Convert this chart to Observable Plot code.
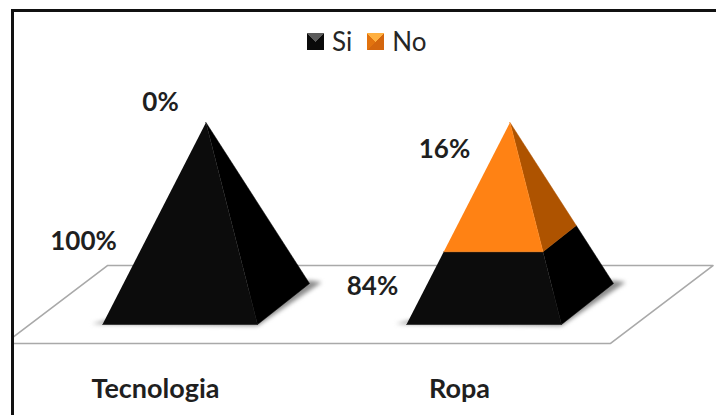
<!DOCTYPE html>
<html>
<head>
<meta charset="utf-8">
<script src="https://cdn.jsdelivr.net/npm/d3@7"></script>
<script src="https://cdn.jsdelivr.net/npm/@observablehq/plot@0.6"></script>
<style>
  html, body { margin: 0; background: #fff; }
  #chart { position: relative; width: 716px; height: 415px; overflow: hidden; }
  #legend { position: absolute; left: 307px; top: 24px; display: flex; align-items: center; height: 34px;
            font: 26px Lato, sans-serif; color: #262626; }
  .swatch { width: 17px; height: 17px; margin-right: 8px; }
  .swatch.si { background: conic-gradient(from 315deg at 50% 55%, #5a5a5a 0 90deg, #0a0a0a 90deg 360deg); }
  .swatch.no { background: conic-gradient(from 315deg at 50% 55%, #ffb040 0 90deg, #d4660e 90deg 270deg, #e2730f 270deg 360deg); }
  #legend span.label { margin-right: 15px; }
</style>
</head>
<body>
<div id="chart">
  <div id="legend"></div>
</div>
<script>
// Survey answers per category, bottom segment first
const categories = ["Tecnologia", "Ropa"];
const seriesNames = ["Si", "No"];
const siValues = [100, 84];
const noValues = [0, 16];

const frontColors = {Si: "#0c0c0c", No: "#ff8214"};
const sideColors = {Si: "#000000", No: "#ae5300"};

// Stack value to height along the pyramid's axis (the 3-D chart compresses the lower part)
const stackHeight = d3.scaleLinear([0, 84, 100], [0, 0.36, 1]);

// Oblique projection of the pyramid: half base width, depth offset in x and y
const halfWidth = 0.255;
const depthX = 0.171;
const depthY = 0.203;

function project(category, across, depth, level) {
  const d = 0.5 + (depth - 0.5) * (1 - level);
  return {
    x: category + across * halfWidth * (1 - level) + depthX * d,
    y: (1 - depthY / 2) * level + depthY * d
  };
}

// One side face and one front face for every stacked segment
const faces = [];
categories.forEach((name, i) => {
  let start = 0;
  seriesNames.forEach((series, s) => {
    const value = (s === 0 ? siValues : noValues)[i];
    const end = start + value;
    if (value > 0) {
      const a = stackHeight(start), b = stackHeight(end);
      const side = [project(i, 1, 0, a), project(i, 1, 1, a), project(i, 1, 1, b), project(i, 1, 0, b)];
      const front = [project(i, -1, 0, a), project(i, 1, 0, a), project(i, 1, 0, b), project(i, -1, 0, b)];
      side.forEach(p => faces.push({...p, face: `${name}-${series}-side`, color: sideColors[series]}));
      front.forEach(p => faces.push({...p, face: `${name}-${series}-front`, color: frontColors[series]}));
    }
    start = end;
  });
});

// Soft shadow along the base of each pyramid
const shadows = categories.flatMap((name, i) => [
  {x: i - halfWidth - 0.035, y: 0.004, face: name},
  {x: i + halfWidth, y: -0.006, face: name},
  {x: i + halfWidth + depthX + 0.04, y: depthY + 0.006, face: name},
  {x: i + halfWidth + depthX, y: depthY + 0.015, face: name},
  {x: i, y: 0.1, face: name}
]);

// Floor the pyramids stand on
const floorFrontX = [-0.58, 1.413];
const floorBackX = [-0.242, 1.75];
const floorFrontY = -0.094;
const floorBackY = 0.292;
const floor = [
  {x: floorBackX[0], y: floorBackY},
  {x: floorBackX[1], y: floorBackY},
  {x: floorFrontX[1], y: floorFrontY},
  {x: floorFrontX[0], y: floorFrontY},
  {x: floorBackX[0], y: floorBackY}
];

// Value labels, each placed beside its segment
const labelOffsets = [
  {series: "Si", i: 0, dx: -96.5, dy: -40},
  {series: "No", i: 0, dx: -19.5, dy: -20},
  {series: "Si", i: 1, dx: -111.5, dy: -1},
  {series: "No", i: 1, dx: -39.5, dy: -37}
];
const labelMarks = labelOffsets.map(({series, i, dx, dy}) => {
  const value = (series === "Si" ? siValues : noValues)[i];
  const base = series === "Si" ? 0 : siValues[i];
  const middle = stackHeight(base + value / 2);
  return Plot.text([{x: i, y: middle, text: `${value}%`}], {
    x: "x", y: "y", text: "text", dx, dy,
    fontSize: 26, fontWeight: 700, fill: "#1f1f1f"
  });
});

const plot = Plot.plot({
  width: 716,
  height: 415,
  marginLeft: 12,
  marginTop: 10,
  marginRight: 0,
  marginBottom: 0,
  style: {fontFamily: "Lato, sans-serif", background: "transparent"},
  x: {domain: [0, 1], range: [179.5, 483.5], axis: null},
  y: {domain: [0, 1], range: [324, 122], axis: null},
  color: {type: "identity"},
  marks: [
    Plot.line(floor, {x: d => d.x + 1 / 304, y: "y", fill: "#fff", stroke: "#a9a9a9", strokeWidth: 1.6, clip: true}),
    Plot.line(shadows, {x: "x", y: "y", z: "face", fill: "#8c8c8c", stroke: null, imageFilter: "blur(2px)"}),
    Plot.line(faces, {x: "x", y: "y", z: "face", fill: "color", stroke: "color", strokeWidth: 0.5}),
    ...labelMarks,
    Plot.axisX({
      ticks: [0, 1], tickFormat: i => categories[i], tickSize: 0, tickPadding: 0,
      anchor: "bottom", dx: -24.5, dy: -37, label: null,
      fontSize: 27, fontWeight: 700, fill: "#1f1f1f"
    }),
    Plot.frame({anchor: "top", stroke: "#111", strokeWidth: 3}),
    Plot.frame({anchor: "left", stroke: "#111", strokeWidth: 3})
  ]
});
document.getElementById("chart").prepend(plot);

// Legend drawn as HTML above the chart
const legend = document.getElementById("legend");
seriesNames.forEach(name => {
  const box = document.createElement("div");
  box.className = `swatch ${name === "Si" ? "si" : "no"}`;
  legend.append(box);
  const label = document.createElement("span");
  label.className = "label";
  label.textContent = name;
  legend.append(label);
});
</script>
</body>
</html>
